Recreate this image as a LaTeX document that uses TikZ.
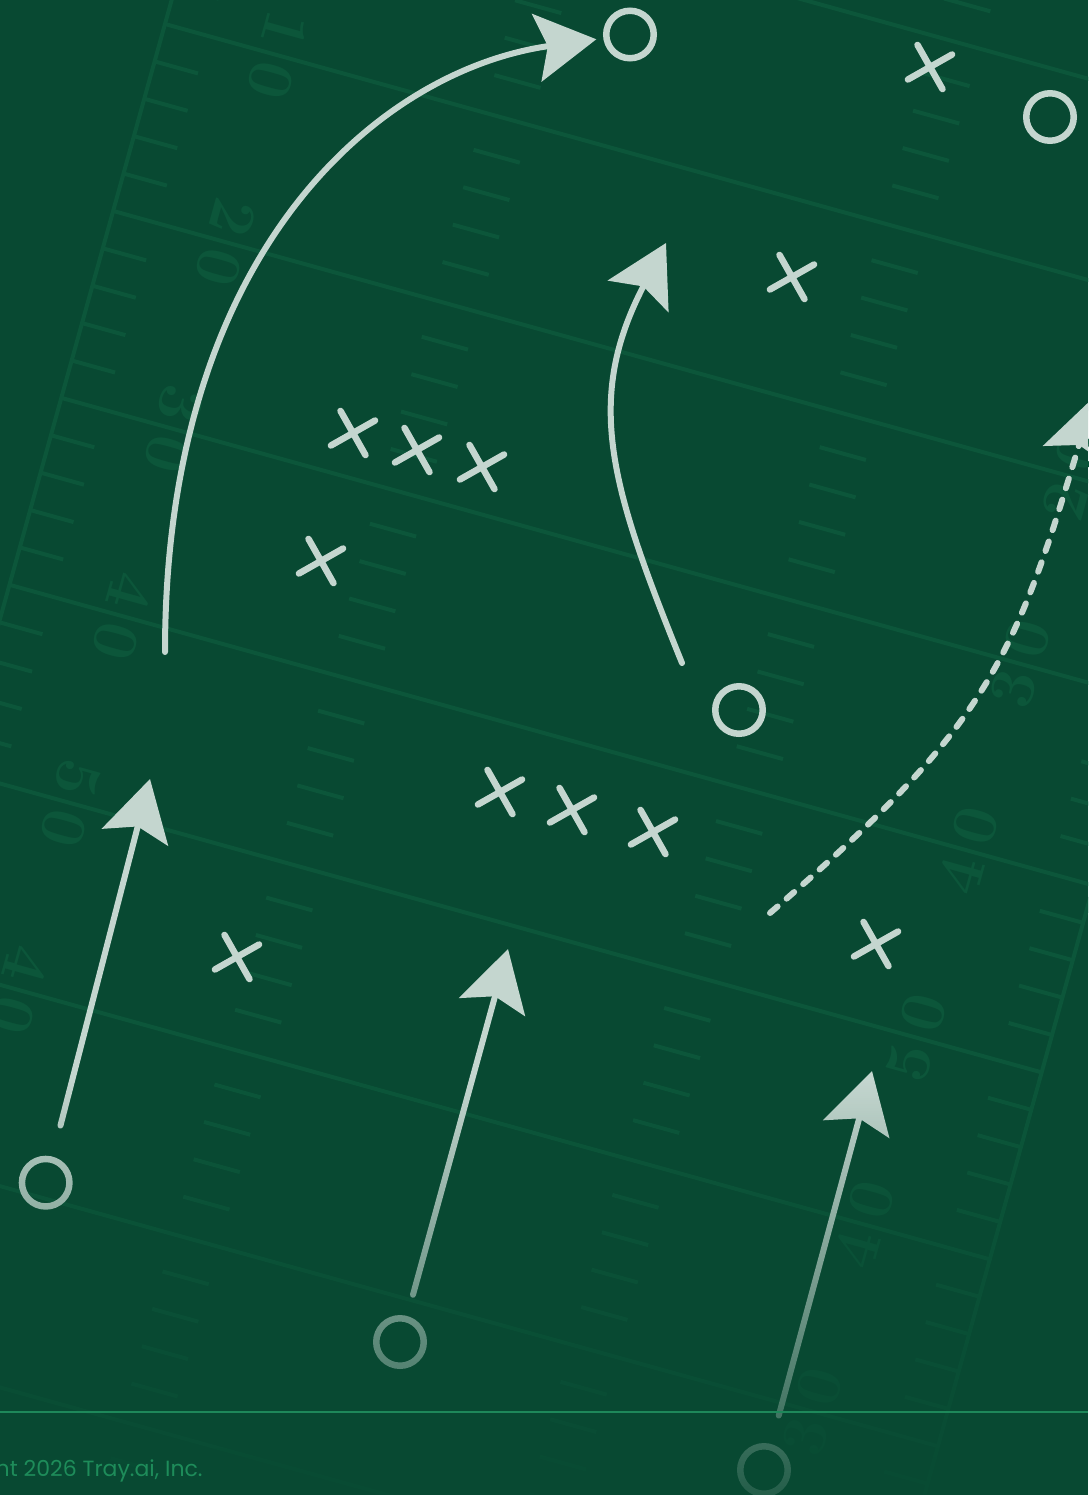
\documentclass[tikz,border=0pt]{standalone}
\usepackage{fontspec}
\newfontfamily\footfont{Poppins}
\usetikzlibrary{arrows.meta,shapes.misc,fadings}

\definecolor{turf}{RGB}{8,73,50}
\definecolor{chalk}{RGB}{12,86,58}
\definecolor{play}{RGB}{196,214,207}
\definecolor{footline}{RGB}{30,136,90}
\definecolor{foottext}{RGB}{30,140,90}

\tikzfading[name=turffade, top color=transparent!100, bottom color=transparent!15]

\tikzset{
  yard/.style    ={draw=chalk, line width=2pt},
  hashmark/.style={draw=chalk, line width=2pt},
  yardnum/.style ={text=chalk, font=\fontsize{32}{32}\selectfont\bfseries, inner sep=0pt},
  oman/.style    ={circle, draw=play, line width=3.25pt, minimum size=23.75pt, inner sep=0pt},
  xman/.style    ={cross out, draw=play, line width=3.25pt, line cap=round, minimum size=14.7pt, inner sep=0pt, rotate=-15.5},
  route/.style   ={draw=play, line width=3pt, line cap=round, -{Stealth[length=30pt, width=34pt, inset=5.5pt]}},
  wheel/.style   ={route, dash pattern=on 5pt off 6pt},
}

\begin{document}
\begin{tikzpicture}[x=0.5pt, y=-0.5pt]
  \fill[turf] (0,0) rectangle (1088,1495);
  \useasboundingbox (0,0) rectangle (1088,1495);
  \clip (0,0) rectangle (1088,1495);

  % field, turned with the sidelines
  \begin{scope}[shift={(165,24)}, rotate=-15.5]
    \draw[yard] (0,-500) -- (0,1800);
    \draw[yard] (1125,-500) -- (1125,1800);
    \foreach \k in {-2,...,8} {
      \draw[yard] (0,\k*194) -- (1125,\k*194);
      \foreach \j in {1,...,4} {
        \draw[hashmark] (0,\k*194+\j*38.8) -- (45,\k*194+\j*38.8);
        \draw[hashmark] (331,\k*194+\j*38.8) -- (379,\k*194+\j*38.8);
        \draw[hashmark] (744,\k*194+\j*38.8) -- (792,\k*194+\j*38.8);
        \draw[hashmark] (1080,\k*194+\j*38.8) -- (1125,\k*194+\j*38.8);
      }
    }
    \foreach \k/\d in {0/1,1/2,2/3,3/4,4/5,5/4,6/3}
      \node[yardnum, rotate=-105.5] (numl\k) at (117,\k*194) {\d\hspace{8pt}0};
    \foreach \k/\d in {1/2,2/3,3/4,4/5,5/4,6/3}
      \node[yardnum, rotate=74.5] (numr\k) at (995,\k*194) {\d\hspace{8pt}0};
  \end{scope}

  % offence
  \node[oman] (tgt) at (630,34.5) {};
  \node[oman] (otr) at (1050,117) {};
  \node[oman] (rb)  at (739,710) {};
  \node[oman] (wrl) at (45.7,1182.7) {};
  \node[oman] (wrm) at (400,1342) {};
  \node[oman] (wrr) at (764,1470) {};

  % defence
  \node[xman] (xa) at (930,67) {};
  \node[xman] (xb) at (792,277) {};
  \node[xman] (xc) at (353,433) {};
  \node[xman] (xd) at (417,450) {};
  \node[xman] (xe) at (482,467) {};
  \node[xman] (xf) at (321,561) {};
  \node[xman] (xg) at (500,792) {};
  \node[xman] (xh) at (572,810) {};
  \node[xman] (xi) at (653,832) {};
  \node[xman] (xj) at (876,944) {};
  \node[xman] (xk) at (237,957) {};

  % routes
  \coordinate (postS) at (165,652);
  \draw[route, shorten >=3.5pt] (postS) .. controls (165,250) and (380,70) .. (tgt);
  \coordinate (curlS) at (682,663);
  \coordinate (curlE) at (666,243);
  \draw[route] (curlS) .. controls (610,485) and (584,400) .. (curlE);
  \coordinate (wheelS) at (770,913);
  \coordinate (wheelE) at (1093,398);
  \draw[wheel] (wheelS) .. controls (985,728) and (1013,666) .. (wheelE);
  \coordinate (goL) at (150,779);
  \coordinate (goM) at (508,949);
  \coordinate (goR) at (872,1071);
  \draw[route, shorten <=16pt] (wrl) -- (goL);
  \draw[route, shorten <=11pt] (wrm) -- (goM);
  \draw[route, shorten <=14.7pt] (wrr) -- (goR);

  % fade towards the foot
  \fill[turf, path fading=turffade] (0,1080) rectangle (1088,1495);
  \draw[footline, line width=1pt] (0,1411.5) -- (1088,1411.5);
  \node[anchor=base east, inner sep=0pt, text=foottext, font=\footfont\fontsize{11}{13}\selectfont] (copy) at (203,1476) {nt 2026 Tray.ai, Inc.};
\end{tikzpicture}
\end{document}
